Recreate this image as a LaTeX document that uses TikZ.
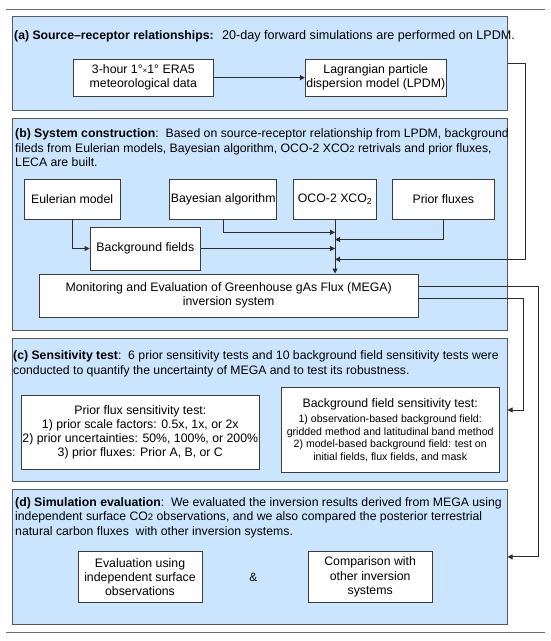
\documentclass[tikz,border=0pt]{standalone}
\usepackage{fontspec}
\setmainfont{Liberation Sans}
\usetikzlibrary{arrows.meta}
\definecolor{panelfill}{RGB}{204,229,255}
\definecolor{panelline}{RGB}{85,90,96}
\definecolor{boxline}{RGB}{60,60,60}
\definecolor{wireclr}{RGB}{45,45,45}
\definecolor{rulegray}{RGB}{110,110,110}
\begin{document}
\begin{tikzpicture}[x=1pt,y=-1pt,
  panel/.style={draw=panelline, fill=panelfill, line width=1pt, inner sep=0pt},
  box/.style={draw=boxline, fill=white, line width=0.9pt, align=center, inner sep=1pt, font=\fontsize{12.3}{14.2}\selectfont},
  title/.style={align=left, anchor=west, inner sep=0pt, font=\fontsize{12.25}{14.4}\selectfont},
  wire/.style={draw=wireclr, line width=0.9pt},
  arr/.style={wire, -{Triangle[length=5pt,width=5pt]}},
  rulestyle/.style={draw=rulegray, line width=1pt}]
\useasboundingbox (0,0) rectangle (550,641);
% rules
\coordinate (r1a) at (6,9.3); \coordinate (r1b) at (545,9.3);
\coordinate (r2a) at (6,632); \coordinate (r2b) at (545,632);
\draw[rulestyle] (r1a) -- (r1b);
\draw[rulestyle] (r2a) -- (r2b);
% panels
\node[panel, minimum width=494.7pt, minimum height=93.3pt] (pa) at (259.65,63.35) {};
\node[panel, minimum width=494.7pt, minimum height=211.5pt] (pb) at (259.65,224.25) {};
\node[panel, minimum width=494.7pt, minimum height=143.4pt] (pc) at (259.65,410) {};
\node[panel, minimum width=494.7pt, minimum height=135.2pt] (pd) at (259.65,556.9) {};
% titles
\node[title] (ta) at (14,36.7) {\textbf{(a) Source–receptor relationships:}\hspace{0.7em}{\fontsize{12.6}{14.4}\selectfont 20-day forward simulations are performed on LPDM.}};
\node[title] (tb) at (15,147.7) {\textbf{(b) System construction}:\ \ Based on source-receptor relationship from LPDM, background\\fileds from Eulerian models, Bayesian algorithm, OCO-2 XCO{\fontsize{9.5}{10}\selectfont 2} retrivals and prior fluxes,\\LECA are built.};
\node[title] (tc) at (13,363.7) {\textbf{(c) Sensitivity test}:\ \ 6 prior sensitivity tests and 10 background field sensitivity tests were\\conducted to quantify the uncertainty of MEGA and to test its robustness.};
\node[title] (td) at (15,517.7) {\textbf{(d) Simulation evaluation}:\ \ We evaluated the inversion results derived from MEGA using\\independent surface CO{\fontsize{9.5}{10}\selectfont 2} observations, and we also compared the posterior terrestrial\\natural carbon fluxes\ \ with other inversion systems.};
% (a) boxes
\node[box, minimum width=139.3pt, minimum height=36.7pt] (era) at (143.35,77.65) {3-hour 1°{\fontsize{8}{8}\selectfont ×}1° ERA5\\meteorological data};
\node[box, minimum width=139.6pt, minimum height=36.7pt] (lpdm) at (375.8,77.65) {Lagrangian particle\\dispersion model (LPDM)};
% (b) boxes
\node[box, minimum width=95.7pt, minimum height=40pt] (eul) at (72.15,199) {Eulerian model};
\node[box, minimum width=106.9pt, minimum height=40pt] (bay) at (223.25,199) {Bayesian algorithm};
\node[box, minimum width=83.5pt, minimum height=40pt] (oco) at (335.05,199) {OCO-2 XCO\textsubscript{2}};
\node[box, minimum width=101.3pt, minimum height=40pt] (pri) at (443.35,199) {Prior fluxes};
\node[box, minimum width=110.7pt, minimum height=43pt] (bgf) at (145.35,248.5) {Background fields};
\node[box, minimum width=378.7pt, minimum height=43pt] (mega) at (228.65,295.5) {Monitoring and Evaluation of Greenhouse gAs Flux (MEGA)\\inversion system};
% (c) boxes
\node[box, minimum width=238.6pt, minimum height=74.3pt] (pst) at (140.3,432.15) {Prior flux sensitivity test:\\1) prior scale factors: 0.5x, 1x, or 2x\\2) prior uncertainties: 50\%, 100\%, or 200\%\\3) prior fluxes: Prior A, B, or C};
\node[box, minimum width=217.6pt, minimum height=85.4pt] (bst) at (390.2,430) {Background field sensitivity test:\\[1pt]
\fontsize{10.6}{12.6}\selectfont 1) observation-based background field:\\[-1.5pt]
\fontsize{10.6}{12.6}\selectfont gridded method and latitudinal band method\\[-1.5pt]
\fontsize{10.6}{12.6}\selectfont 2) model-based background field: test on\\[-1.5pt]
\fontsize{10.6}{12.6}\selectfont initial fields, flux fields, and mask};
% (d) boxes
\node[box, minimum width=124pt, minimum height=50.6pt] (ev) at (140,577) {Evaluation using\\independent surface\\observations};
\node[box, minimum width=124.3pt, minimum height=50.6pt] (cmp) at (370.15,577) {Comparison with\\other inversion\\systems};
\node[font=\fontsize{12}{14}\selectfont, inner sep=0pt] (amp) at (253.3,577) {\&};
% connectors
\coordinate (jb) at (335.05,232.3);
\coordinate (jp) at (335.05,239.5);
\coordinate (jl) at (335.05,259.3);
\draw[arr] (era) -- (lpdm);
\draw[arr] (oco.south) -- (oco.south |- mega.north);
\draw[arr] (eul.south) |- (bgf.west);
\draw[arr] (bay.south) |- (jb);
\draw[arr] (pri.south) |- (jp);
\draw[arr] (bgf.east) -- (bgf.east -| oco.south);
\draw[arr] (pa.east) -- ++(18,0) |- (jl);
\draw[arr] ([yshift=8.8pt]mega.east) -- ++(120,0) |- (pd.east);
\draw[arr] ([yshift=-2.8pt]mega.east) -- ++(104.8,0) |- (pc.east);
\end{tikzpicture}
\end{document}
